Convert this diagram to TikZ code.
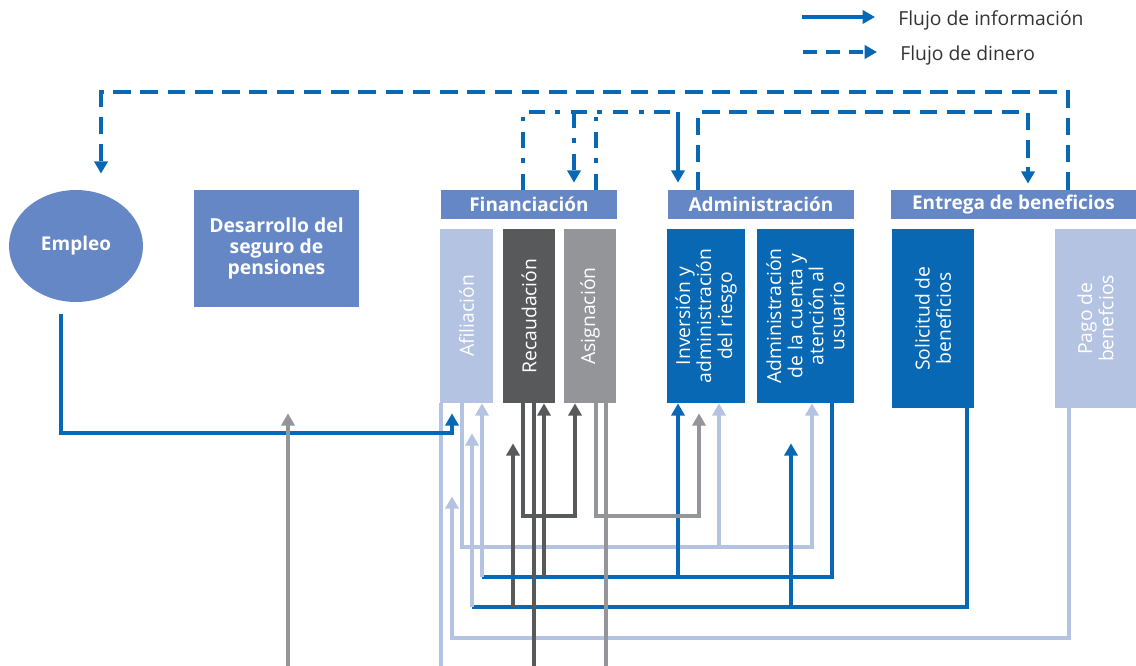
\documentclass[tikz,border=0pt]{standalone}
\usepackage{fontspec}
\setmainfont{Open Sans}
\usetikzlibrary{shapes.geometric,positioning,arrows.meta}
\definecolor{midblue}{HTML}{6587C5}
\definecolor{darkblue}{HTML}{0868B3}
\definecolor{lightblue}{HTML}{B5C3E3}
\definecolor{darkgray}{HTML}{58595B}
\definecolor{midgray}{HTML}{939598}
\definecolor{legendgray}{HTML}{333333}
\tikzset{
>={Triangle[width=7.5pt,length=7pt]},
box/.style={rectangle, inner sep=0pt, text=white, align=center},
head/.style={box, fill=midblue, minimum height=0.58cm, font=\bfseries\fontsize{10.8}{12}\selectfont},
colbox/.style={box, minimum height=3.48cm},
tallbox/.style={box, minimum height=3.58cm},
coltext/.style={rotate=90, align=center, text=white, inner sep=0pt, font=\fontsize{11}{12}\selectfont},
legtext/.style={inner sep=0pt, text=legendgray, font=\fontsize{11}{13}\selectfont},
info/.style={line width=1.9pt},
money/.style={line width=2.5pt, draw=darkblue, dash pattern=on 10pt off 5.5pt},
both/.style={line width=2.3pt, draw=darkblue, dash pattern=on 9pt off 6pt on 2.8pt off 6pt},
}
\begin{document}
\begin{tikzpicture}[x=0.02cm, y=-0.02cm]
    \useasboundingbox (0,0) rectangle (1136,666);

    % legend
    \coordinate (k1) at (802,17);
    \coordinate[right=1.46cm of k1] (k2);
    \coordinate (k3) at (803,52);
    \coordinate[right=1.48cm of k3] (k4);
    \node[legtext, right=0.46cm of k2, anchor=west, yshift=-0.07cm] (kinfo) {Flujo de información};
    \node[legtext, right=0.46cm of k4, anchor=west, yshift=-0.07cm] (kmoney) {Flujo de dinero};
    \draw[info, draw=darkblue, ->] (k1) -- (k2);
    \draw[money, line width=1.9pt, dash pattern=on 8pt off 5pt, ->] (k3) -- (k4);

    % nodes
    \node[ellipse, fill=midblue, minimum width=2.68cm, minimum height=2.24cm, inner sep=0pt,
          text=white, font=\bfseries\fontsize{10.8}{12}\selectfont] (empleo) at (76,246) {Empleo};
    \node[box, fill=midblue, minimum width=3.3cm, minimum height=2.34cm,
          font=\bfseries\fontsize{11}{12}\selectfont] (desa) at (276.5,248.5) {Desarrollo del\\seguro de\\pensiones};

    \node[head, minimum width=3.52cm] (fin) at (529,204.5) {Financiación};
    \node[head, minimum width=3.72cm] (adm) at (761,204.5) {Administración};
    \node[head, minimum width=4.9cm] (entr) at (1013.5,204.5) {Entrega de beneficios};

    \node[colbox, fill=lightblue, minimum width=1.06cm, label={[coltext]center:Afiliación}] (afil) at (466.5,316) {};
    \node[colbox, fill=darkgray, minimum width=1.04cm, label={[coltext]center:Recaudación}] (rec) at (529,316) {};
    \node[colbox, fill=midgray, minimum width=1.04cm, label={[coltext]center:Asignación}] (asig) at (590,316) {};
    \node[colbox, fill=darkblue, minimum width=1.56cm,
          label={[coltext]center:Inversión y\\administración\\del riesgo}] (inv) at (706,316) {};
    \node[colbox, fill=darkblue, minimum width=1.94cm,
          label={[coltext]center:Administración\\de la cuenta y\\atención al\\usuario}] (acct) at (805.5,316) {};
    \node[tallbox, fill=darkblue, minimum width=1.64cm,
          label={[coltext]center:Solicitud de\\beneficios}] (sol) at (933,318.5) {};
    \node[tallbox, fill=lightblue, minimum width=1.62cm,
          label={[coltext]center:Pago de\\benefcios}] (pago) at (1095.5,318.5) {};

    % money flows
    \draw[money, ->, shorten >=0.32cm] (entr.north -| 1068,0) |- (101,92) -- (empleo.north -| 101,0);
    \draw[money, ->, shorten >=0.12cm] (adm.north -| 698,0) |- (1028,112) -- (entr.north -| 1028,0);
    \draw[both] (fin.north -| 523,0) |- (678,112);
    \draw[both] (fin.north -| 596,0) -- (596,112);
    \draw[both, ->, shorten >=0.14cm] (574,112) -- (fin.north -| 574,0);
    \draw[info, draw=darkblue, ->, shorten >=0.14cm] (678,112) -- (adm.north -| 678,0);

    % information flows
    \draw[info, draw=lightblue] (afil.south -| 441,0) -- (441,666);
    \draw[info, draw=lightblue, ->] (afil.south -| 462,0) |- (812,547) -- (acct.south -| 812,0);
    \draw[info, draw=lightblue, ->] (719,547) -- (inv.south -| 719,0);

    \draw[info, draw=lightblue, ->, shorten >=1.86cm] (pago.south -| 1069,0) |- (452,638) -- (afil.south -| 452,0);

    \draw[info, draw=darkblue] (sol.south -| 967,0) |- (472,607);
    \draw[info, draw=darkblue, ->, shorten >=0.8cm] (791,607) -- (acct.south -| 791,0);
    \draw[info, draw=darkgray, ->, shorten >=0.8cm] (513,607) -- (rec.south -| 513,0);
    \draw[info, draw=lightblue, ->, shorten >=0.6cm] (472,607) -- (afil.south -| 472,0);

    \draw[info, draw=darkblue] (acct.south -| 832,0) |- (482,577);
    \draw[info, draw=darkblue, ->] (678,577) -- (inv.south -| 678,0);
    \draw[info, draw=darkgray, line width=2.5pt, ->] (544,577) -- (rec.south -| 544,0);
    \draw[info, draw=lightblue, ->] (482,577) -- (afil.south -| 482,0);

    \draw[info, draw=darkblue, ->, shorten <=0.24cm, shorten >=0.2cm] (empleo.south -| 61,0) |- (452,433) -- (afil.south -| 452,0);

    \draw[info, draw=darkgray, ->] (rec.south -| 523,0) |- (575,516) -- (asig.south -| 575,0);
    \draw[info, draw=midgray, ->, shorten >=0.2cm] (asig.south -| 596,0) |- (699,516) -- (inv.south -| 699,0);
    \draw[info, draw=darkgray] (rec.south -| 534,0) -- (534,666);
    \draw[info, draw=midgray] (asig.south -| 606,0) -- (606,666);
    \draw[info, draw=midgray, ->, shorten >=2.12cm] (288,666) -- (desa.south -| 288,0);
\end{tikzpicture}
\end{document}
